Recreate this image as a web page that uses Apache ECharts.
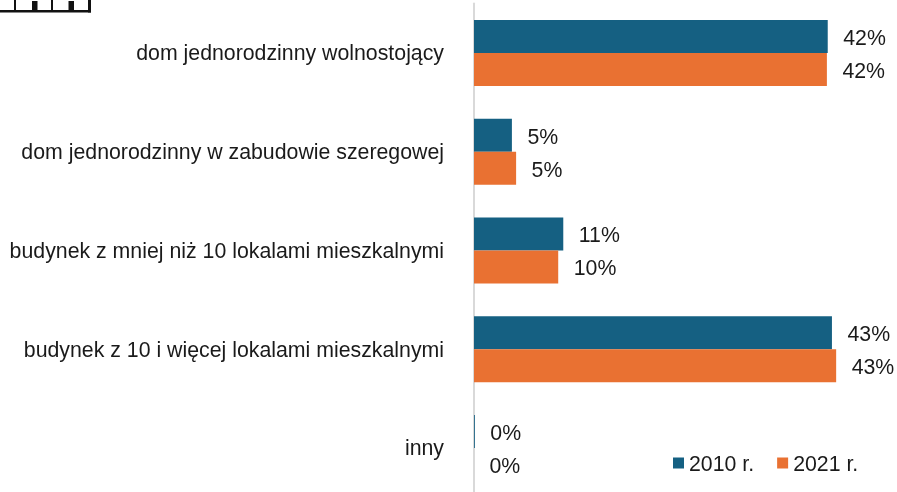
<!DOCTYPE html>
<html><head><meta charset="utf-8">
<style>html,body{margin:0;padding:0;background:#fff}#c{width:897px;height:492px}</style>
<script src="https://cdn.jsdelivr.net/npm/echarts@6/dist/echarts.min.js"></script>
</head><body><div id="c"></div>
<script>
const categories = ["dom jednorodzinny wolnostojący","dom jednorodzinny w zabudowie szeregowej","budynek z mniej niż 10 lokalami mieszkalnymi","budynek z 10 i więcej lokalami mieszkalnymi","inny"];
const values2010 = [42.0, 4.5, 10.6, 42.5, 0.1];
const values2021 = [41.9, 5.0, 10.0, 43.0, 0];
const seriesNames = ["2010 r.","2021 r."];
const font = "'Liberation Sans', Arial, sans-serif";
const chart = echarts.init(document.getElementById('c'),null,{renderer:'canvas'});
const lab = {show:true,position:'right',distance:15.5,offset:[0,2.5],color:'#1a1a1a',fontFamily:font,fontSize:21.3,formatter:p=>Math.round(p.value)+'%'};
const comb = [[0,10,91,2.5],[14,0,2,11],[32,1,5.5,10],[51,0,2,11],[68.5,1,5.5,10],[88,0,3,12.5]];
const txt = {fontFamily:font,fontSize:21.3,color:'#1a1a1a'};
chart.setOption({
  animation:false,
  backgroundColor:'#fff',
  textStyle:{fontFamily:font},
  grid:{left:474,top:3.6,width:379,height:493.75,outerBoundsMode:'none'},
  legend:{left:673,top:455,itemWidth:11,itemHeight:11,itemGap:23,icon:'rect',padding:0,
    formatter:n=>'{a|'+n+'}',
    textStyle:{...txt,rich:{a:{...txt,padding:[5,0,0,0]}}},data:seriesNames},
  xAxis:{type:'value',min:0,max:45,show:false},
  yAxis:{type:'category',inverse:true,data:categories,
    axisLine:{show:true,lineStyle:{color:'#d9d9d9',width:2}},axisTick:{show:false},
    axisLabel:{...txt,margin:30,formatter:v=>'{a|'+v+'}',rich:{a:{...txt,padding:[3,0,0,0]}}}},
  series:[
    {name:seriesNames[0],type:'bar',data:values2010,barWidth:33,barGap:'0%',itemStyle:{color:'#156082'},label:lab},
    {name:seriesNames[1],type:'bar',data:values2021,barWidth:33,barGap:'0%',itemStyle:{color:'#E97132'},label:lab}
  ],
  graphic:comb.map(r=>({type:'rect',shape:{x:r[0],y:r[1],width:r[2],height:r[3]},style:{fill:'#111'}}))
});
</script></body></html>
